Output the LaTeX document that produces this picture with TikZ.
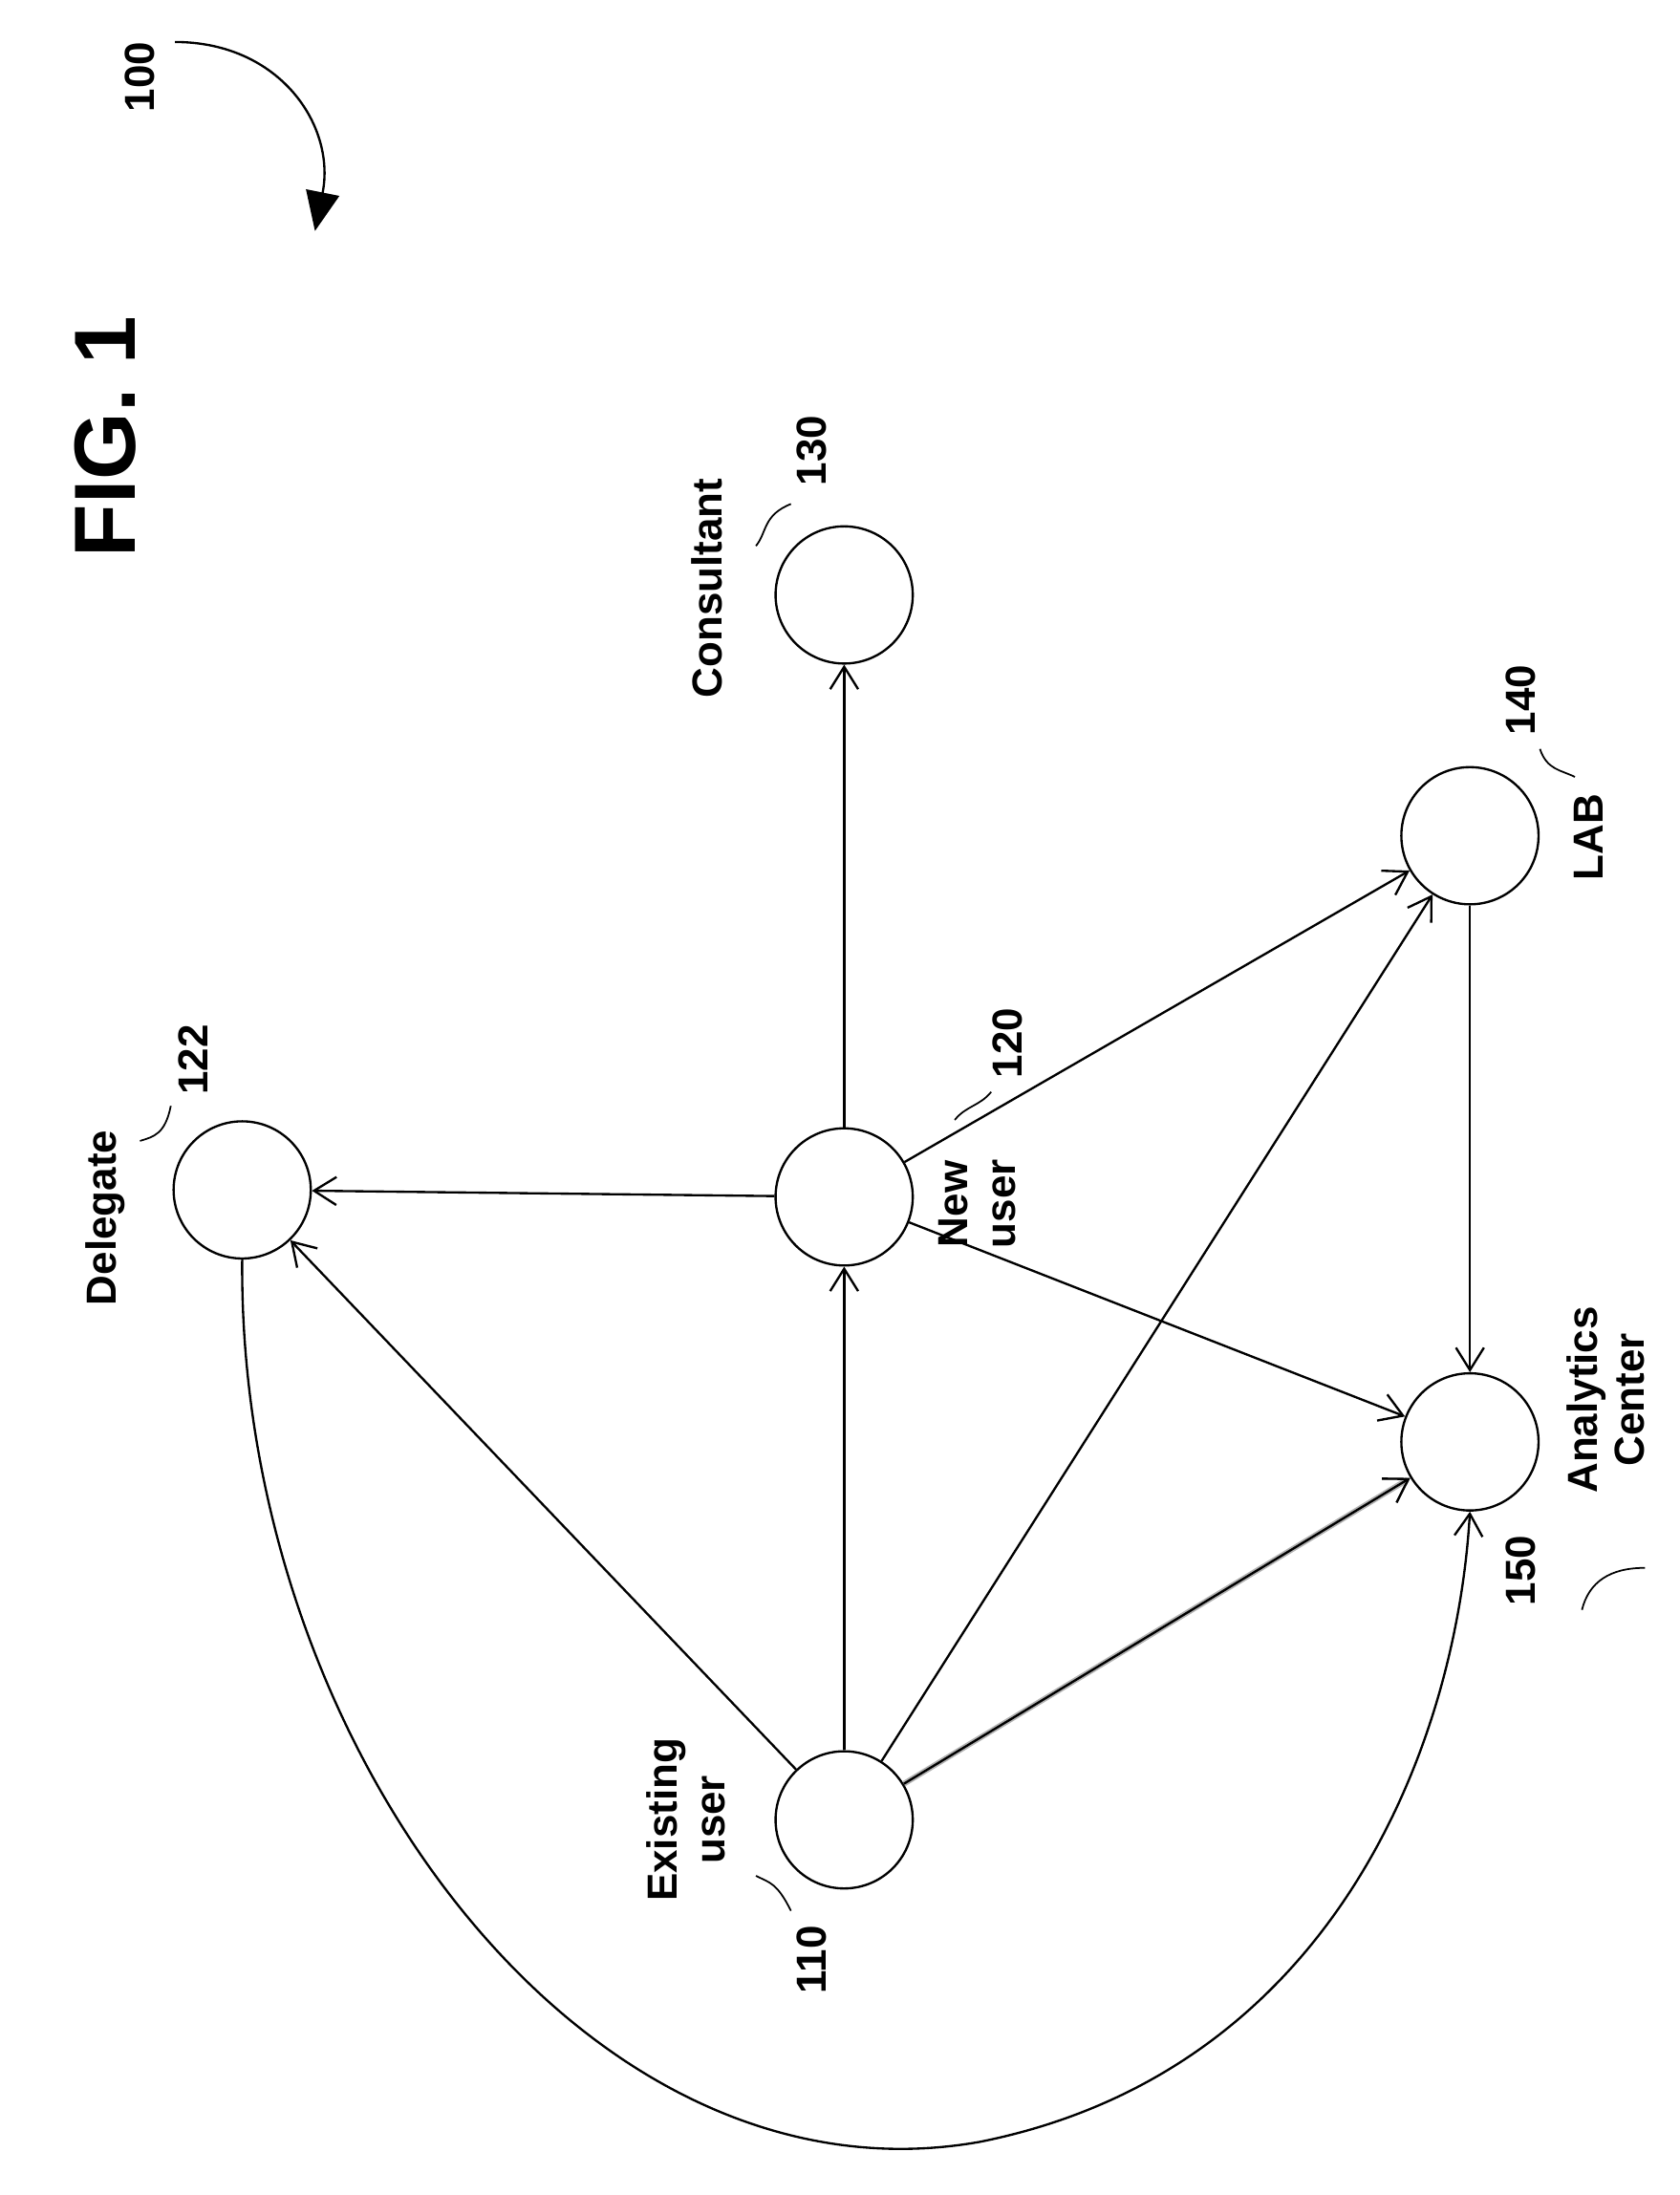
\documentclass[tikz,border=0pt]{standalone}
\usepackage{fontspec}
\setmainfont{Liberation Sans}
\usetikzlibrary{arrows.meta}
\begin{document}
\begin{tikzpicture}[x=0.5pt,y=-0.5pt,
    party/.style={draw,circle,minimum size=49pt,line width=0.8pt},
    lbl/.style={rotate=90,font=\fontsize{15}{17}\selectfont\bfseries,align=center,inner sep=0pt},
    link/.style={line width=0.8pt,-{Straight Barb[length=8pt,width=10pt,line width=0.8pt]}},
    leader/.style={line width=0.6pt}]
        \useasboundingbox (0,0) rectangle (1200,1568);

        % parties
        \node[party] (del) at (173,850) {};
        \node[party] (new) at (603,855) {};
        \node[party] (con) at (603,425) {};
        \node[party] (lab) at (1050,597) {};
        \node[party] (ana) at (1050,1030) {};
        \node[party] (old) at (603,1300) {};

        % links
        \draw[link] (new) -- (del);
        \draw[link] (old) -- (new);
        \draw[link] (old) -- (del);
        \draw[link] (new) -- (con);
        \draw[link] (new) -- (lab);
        \draw[link] (new) -- (ana);
        \draw[link] (old) -- (lab);
        \draw[link,line width=2pt,draw=gray!60] (old) -- (ana);
        \draw[link] (old) -- (ana);
        \draw[link] (lab) -- (ana);
        \draw[link] (del.south) .. controls (170,1250) and (420,1580) .. (700,1530)
            .. controls (950,1480) and (1040,1250) .. (ana.south);

        % labels
        \node[lbl] (tdel) at (75,870) {Delegate};
        \node[lbl] (tnew) at (698,860) {New\\user};
        \node[lbl] (tcon) at (505,420) {Consultant};
        \node[lbl] (tlab) at (1135,598) {LAB};
        \node[lbl] (tana) at (1147,1000) {Analytics\\Center};
        \node[lbl] (told) at (490,1300) {Existing\\user};

        % reference numerals
        \node[lbl] (n122) at (138,757) {122};
        \node[lbl] (n120) at (720,745) {120};
        \node[lbl] (n130) at (580,322) {130};
        \node[lbl] (n140) at (1086,500) {140};
        \node[lbl] (n150) at (1086,1122) {150};
        \node[lbl] (n110) at (580,1400) {110};
        \draw[leader] (122,790) .. controls (118,810) and (110,812) .. (100,815);
        \draw[leader] (708,780) .. controls (700,790) and (690,790) .. (682,800);
        \draw[leader] (565,360) .. controls (545,368) and (548,380) .. (540,390);
        \draw[leader] (1100,535) .. controls (1105,550) and (1115,550) .. (1125,555);
        \draw[leader] (1175,1120) .. controls (1150,1120) and (1135,1130) .. (1130,1150);
        \draw[leader] (565,1365) .. controls (555,1345) and (550,1345) .. (540,1340);

        % figure title
        \node[lbl,font=\fontsize{31}{34}\selectfont\bfseries] (fig) at (75,312) {FIG. 1};
        \node[lbl] (n100) at (100,55) {100};
        \draw[line width=0.8pt,-{Triangle[length=14pt,width=12pt]}] (125,30) .. controls (200,30) and (240,90) .. (225,165);
\end{tikzpicture}
\end{document}
